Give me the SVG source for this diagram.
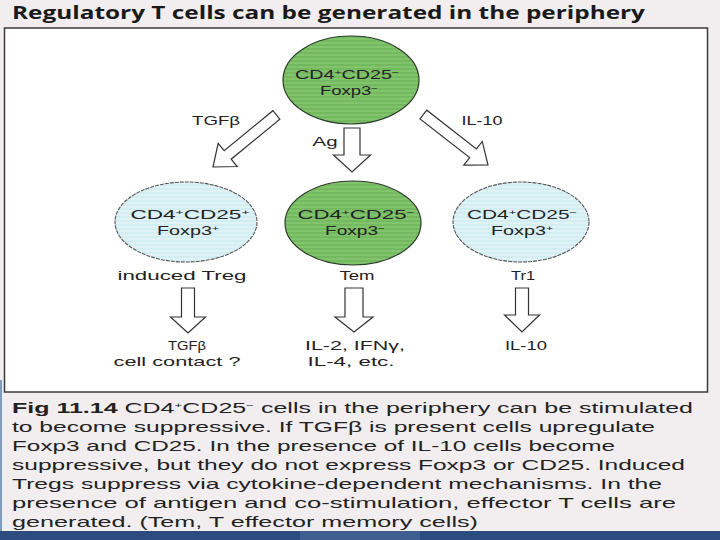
<svg xmlns="http://www.w3.org/2000/svg" width="720" height="540" viewBox="0 0 720 540">
  <defs>
    <pattern id="greenStripe" width="8" height="4" patternUnits="userSpaceOnUse">
      <rect width="8" height="4" fill="#74b960"/>
      <rect y="2" width="8" height="2" fill="#82c46c"/>
    </pattern>
    <pattern id="blueStripe" width="8" height="4" patternUnits="userSpaceOnUse">
      <rect width="8" height="4" fill="#d3edf3"/>
      <rect y="2" width="8" height="2" fill="#dff3f7"/>
    </pattern>
    <style>
      .bg { fill: #f2eef0; }
      .frame { fill: #ffffff; stroke: #3a3a3a; stroke-width: 1.5; }
      .green { fill: url(#greenStripe); stroke: #2a3a2a; stroke-width: 1.2; }
      .blue { fill: url(#blueStripe); stroke: #555555; stroke-width: 1.1; stroke-dasharray: 4 1; }
      .arrow { fill: #ffffff; stroke: #333333; stroke-width: 1.2; stroke-linejoin: miter; }
      .cell { font-family: "Liberation Sans", Arial, sans-serif; font-size: 13px; fill: #222222; text-anchor: middle; }
      .lbl { font-family: "Liberation Sans", Arial, sans-serif; font-size: 13.5px; fill: #222222; text-anchor: middle; }
      .title { font-family: "Open Sans", "Liberation Sans", sans-serif; font-size: 17px; font-weight: bold; fill: #1a1a1a; }
      .cap { font-family: "Liberation Sans", Arial, sans-serif; font-size: 15px; fill: #222222; }
      .sup { font-size: 8px; }
    </style>
  </defs>

  <rect class="bg" x="0" y="0" width="720" height="540"/>
  <rect x="0" y="380" width="2" height="160" fill="#7f9cbd"/>
  <rect x="0" y="531" width="720" height="9" fill="#2c4c80"/>
  <rect x="300" y="531" width="120" height="9" fill="#4a6a9a" opacity="0.6"/>

  <text class="title" x="12" y="19" textLength="633" lengthAdjust="spacingAndGlyphs">Regulatory T cells can be generated in the periphery</text>

  <rect class="frame" x="4.5" y="28" width="703" height="364"/>

  <g id="connectors">
    <path id="arrow-ag" class="arrow" transform="translate(352,172)" d="M-8,-44 L8,-44 L8,-17 L18.5,-17 L0,0 L-18.5,-17 L-8,-17 Z"/>
    <path id="arrow-tgfb" class="arrow" transform="translate(213,167) rotate(50.6)" d="M-5.5,-82 L5.5,-82 L5.5,-19 L15,-19 L0,0 L-15,-19 L-5.5,-19 Z"/>
    <path id="arrow-il10" class="arrow" transform="translate(488,165) rotate(-52)" d="M-5.5,-82 L5.5,-82 L5.5,-19 L15,-19 L0,0 L-15,-19 L-5.5,-19 Z"/>
    <path id="arrow-treg-out" class="arrow" transform="translate(188,333)" d="M-6.5,-45 L6.5,-45 L6.5,-16 L17.5,-16 L0,0 L-17.5,-16 L-6.5,-16 Z"/>
    <path id="arrow-tem-out" class="arrow" transform="translate(354,332)" d="M-9,-44 L9,-44 L9,-15 L19,-15 L0,0 L-19,-15 L-9,-15 Z"/>
    <path id="arrow-tr1-out" class="arrow" transform="translate(522,332)" d="M-6.5,-44 L6.5,-44 L6.5,-17 L17.5,-17 L0,0 L-17.5,-17 L-6.5,-17 Z"/>
    <text class="lbl" x="216" y="125" font-size="14" textLength="48" lengthAdjust="spacingAndGlyphs">TGFβ</text>
    <text class="lbl" x="482" y="125" font-size="14" textLength="41" lengthAdjust="spacingAndGlyphs">IL-10</text>
    <text class="lbl" x="325" y="146" font-size="14" textLength="25" lengthAdjust="spacingAndGlyphs">Ag</text>
  </g>

  <g id="node-top">
    <ellipse class="green" cx="351" cy="80" rx="68" ry="44"/>
    <text class="cell" x="347" y="79" textLength="104" lengthAdjust="spacingAndGlyphs">CD4<tspan class="sup" dy="-4">+</tspan><tspan dy="4">CD25</tspan><tspan class="sup" dy="-4">−</tspan></text>
    <text class="cell" x="349" y="95" textLength="58" lengthAdjust="spacingAndGlyphs">Foxp3<tspan class="sup" dy="-4">−</tspan></text>
  </g>

  <g id="node-itreg">
    <ellipse class="blue" cx="186" cy="222" rx="71" ry="40"/>
    <text class="cell" x="190" y="219" textLength="119" lengthAdjust="spacingAndGlyphs">CD4<tspan class="sup" dy="-4">+</tspan><tspan dy="4">CD25</tspan><tspan class="sup" dy="-4">+</tspan></text>
    <text class="cell" x="188" y="235" textLength="62" lengthAdjust="spacingAndGlyphs">Foxp3<tspan class="sup" dy="-4">+</tspan></text>
    <text class="lbl" x="182" y="280" font-size="14" textLength="129" lengthAdjust="spacingAndGlyphs">induced Treg</text>
  </g>

  <g id="node-tem">
    <ellipse class="green" cx="353" cy="223" rx="68" ry="42"/>
    <text class="cell" x="356" y="219" textLength="117" lengthAdjust="spacingAndGlyphs">CD4<tspan class="sup" dy="-4">+</tspan><tspan dy="4">CD25</tspan><tspan class="sup" dy="-4">−</tspan></text>
    <text class="cell" x="355" y="235" textLength="60" lengthAdjust="spacingAndGlyphs">Foxp3<tspan class="sup" dy="-4">−</tspan></text>
    <text class="lbl" x="357" y="280" font-size="15" textLength="35" lengthAdjust="spacingAndGlyphs">Tem</text>
  </g>

  <g id="node-tr1">
    <ellipse class="blue" cx="521" cy="222" rx="68" ry="40"/>
    <text class="cell" x="522" y="219" textLength="110" lengthAdjust="spacingAndGlyphs">CD4<tspan class="sup" dy="-4">+</tspan><tspan dy="4">CD25</tspan><tspan class="sup" dy="-4">−</tspan></text>
    <text class="cell" x="522" y="235" textLength="62" lengthAdjust="spacingAndGlyphs">Foxp3<tspan class="sup" dy="-4">+</tspan></text>
    <text class="lbl" x="523" y="280" font-size="15" textLength="24" lengthAdjust="spacingAndGlyphs">Tr1</text>
  </g>

  <g id="out-treg">
    <text class="lbl" x="187" y="350" textLength="38" lengthAdjust="spacingAndGlyphs">TGFβ</text>
    <text class="lbl" x="177" y="366" textLength="127" lengthAdjust="spacingAndGlyphs">cell contact ?</text>
  </g>
  <g id="out-tem">
    <text class="lbl" x="355" y="350" textLength="100" lengthAdjust="spacingAndGlyphs">IL-2, IFNγ,</text>
    <text class="lbl" x="351" y="366" textLength="87" lengthAdjust="spacingAndGlyphs">IL-4, etc.</text>
  </g>
  <g id="out-tr1">
    <text class="lbl" x="526" y="350" textLength="42" lengthAdjust="spacingAndGlyphs">IL-10</text>
  </g>

  <g id="caption">
    <text class="cap" x="12" y="413" textLength="681" lengthAdjust="spacingAndGlyphs"><tspan font-weight="bold">Fig 11.14</tspan>  CD4<tspan class="sup" dy="-5">+</tspan><tspan dy="5">CD25</tspan><tspan class="sup" dy="-5">−</tspan><tspan dy="5"> cells in the periphery can be stimulated</tspan></text>
    <text class="cap" x="12" y="432" textLength="643" lengthAdjust="spacingAndGlyphs">to become suppressive. If TGFβ is present cells upregulate</text>
    <text class="cap" x="12" y="451" textLength="603" lengthAdjust="spacingAndGlyphs">Foxp3 and CD25. In the presence of IL-10 cells become</text>
    <text class="cap" x="12" y="470" textLength="673" lengthAdjust="spacingAndGlyphs">suppressive, but they do not express Foxp3 or CD25. Induced</text>
    <text class="cap" x="12" y="489" textLength="650" lengthAdjust="spacingAndGlyphs">Tregs suppress via cytokine-dependent mechanisms. In the</text>
    <text class="cap" x="12" y="508" textLength="664" lengthAdjust="spacingAndGlyphs">presence of antigen and co-stimulation, effector T cells are</text>
    <text class="cap" x="12" y="527" textLength="466" lengthAdjust="spacingAndGlyphs">generated. (Tem, T effector memory cells)</text>
  </g>
</svg>
